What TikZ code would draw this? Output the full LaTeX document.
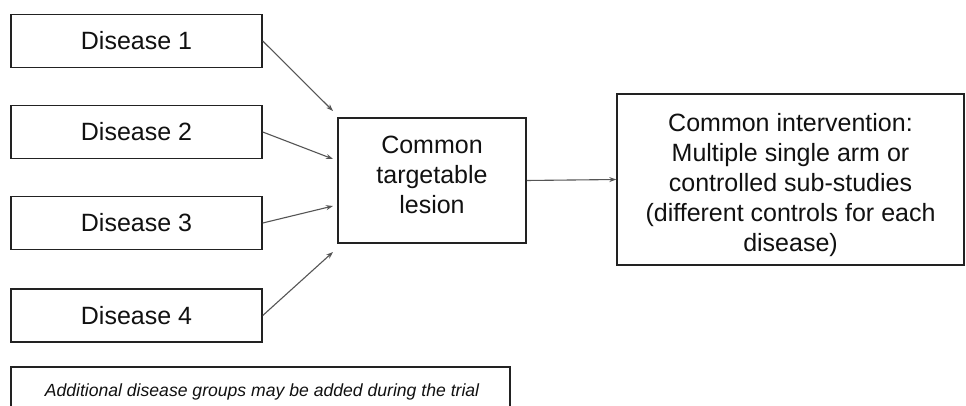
\documentclass[tikz,border=0pt]{standalone}
\usepackage{fontspec}
\setmainfont{Liberation Sans}
\usetikzlibrary{arrows.meta}
\definecolor{boxc}{HTML}{222222}
\definecolor{arrc}{HTML}{555555}
\definecolor{txtc}{HTML}{111111}
\begin{document}
\begin{tikzpicture}[x=1pt,y=-1pt,
  dis/.style={draw=boxc, line width=1.5pt, minimum width=251pt, minimum height=53pt, inner sep=0pt, text=txtc, font=\fontsize{25}{30}\selectfont},
  big/.style={draw=boxc, line width=1.5pt, inner sep=0pt, align=center, text=txtc, font=\fontsize{25}{30}\selectfont},
  conn/.style={draw=arrc, line width=1.1pt, -{Stealth[length=7pt,width=5pt]}},
  notefont/.style={text=txtc, font=\fontsize{17.6}{21}\selectfont\itshape, inner sep=0pt}]
\useasboundingbox[fill=white] (0,0) rectangle (966,406);
\node[dis] (d1) at (136.5,41) {Disease 1};
\node[dis] (d2) at (136.5,132) {Disease 2};
\node[dis] (d3) at (136.5,223) {Disease 3};
\node[dis] (d4) at (136.5,315.5) {Disease 4};
\node[big, minimum width=188pt, minimum height=125pt] (lesion) at (432,180.5) {Common\\targetable\\lesion\rule[-12pt]{0pt}{12pt}};
\node[big, minimum width=347pt, minimum height=171pt] (interv) at (790.5,179.5) {\rule{0pt}{28.5pt}Common intervention:\\Multiple single arm or\\controlled sub-studies\\(different controls for each\\disease)};
\coordinate (e1) at (333,111);
\coordinate (e2) at (333,159);
\coordinate (e3) at (333,206);
\coordinate (e4) at (333,252);
\draw[conn] (d1.east) -- (e1);
\draw[conn] (d2.east) -- (e2);
\draw[conn] (d3.east) -- (e3);
\draw[conn] (d4.east) -- (e4);
\draw[conn] (lesion.east) -- (interv.west);
\draw[draw=boxc, line width=1.5pt] (11,430) -- (11,367) -- (510,367) -- (510,430);
\node[notefont, anchor=base] (note) at (262,396) {Additional disease groups may be added during the trial};
\end{tikzpicture}
\end{document}
